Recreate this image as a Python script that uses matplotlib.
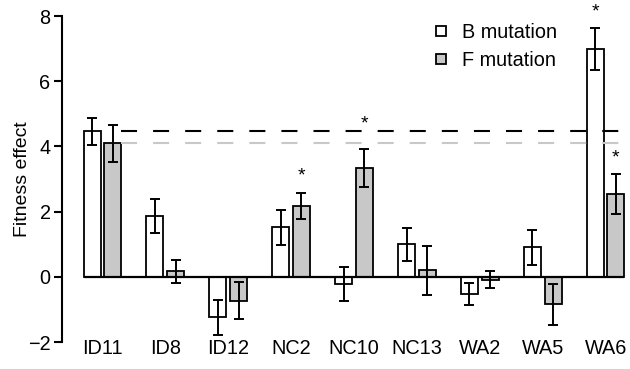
import matplotlib
matplotlib.use("Agg")
import matplotlib.pyplot as plt
from matplotlib.lines import Line2D
import numpy as np

plt.rcParams['font.family'] = ['Liberation Sans', 'DejaVu Sans']

categories = ["ID11", "ID8", "ID12", "NC2", "NC10", "NC13", "WA2", "WA5", "WA6"]
b_values = [4.46, 1.87, -1.24, 1.52, -0.22, 1.00, -0.53, 0.90, 6.99]
b_errors = [0.42, 0.53, 0.54, 0.53, 0.53, 0.50, 0.33, 0.53, 0.64]
f_values = [4.09, 0.17, -0.73, 2.18, 3.34, 0.20, -0.09, -0.84, 2.53]
f_errors = [0.56, 0.36, 0.56, 0.40, 0.58, 0.76, 0.26, 0.63, 0.61]
b_reference = 4.46
f_reference = 4.09
# significance stars: (category index, series, y position)
star_cat = ["NC2", "NC10", "WA6", "WA6"]
star_series = ["F", "F", "B", "F"]
star_y = [3.23, 4.84, 8.27, 3.80]

fig = plt.figure(figsize=(6.3, 3.69), dpi=100)
ax = fig.add_axes([61.7/630, 1-342/369, (630-61.7)/630, (342-16)/369])

x = np.arange(len(categories))
off = 0.164
w = 0.27
gray = "#c8c8c8"
ax.bar(x - off, b_values, w, color="white", edgecolor="black", linewidth=1.3, zorder=2)
ax.bar(x + off, f_values, w, color=gray, edgecolor="black", linewidth=1.3, zorder=2)
ax.errorbar(x - off, b_values, yerr=b_errors, fmt="none", ecolor="black",
            elinewidth=1.4, capsize=3.6, capthick=1.4, zorder=3)
ax.errorbar(x + off, f_values, yerr=f_errors, fmt="none", ecolor="black",
            elinewidth=1.4, capsize=3.6, capthick=1.4, zorder=3)

x0, x1 = x[0] - off - w/2, x[-1] + off + w/2
ax.hlines(0, x0, x1, color="black", linewidth=1.6, zorder=4)
ax.plot([0.30, x1 + 0.04], [b_reference]*2, color="black", linewidth=1.5,
        dashes=(7.7, 7.7), dash_capstyle="butt", zorder=4)
ax.plot([0.30, x1 + 0.04], [f_reference]*2, color="#c8c8c8", linewidth=1.5,
        dashes=(7.7, 7.7), dash_capstyle="butt", zorder=4)

for c, s, yv in zip(star_cat, star_series, star_y):
    xi = categories.index(c) + (off if s == "F" else -off)
    ax.text(xi, yv - 0.15, "*", ha="center", va="center", fontsize=14)

ax.set_xlim(-0.647, 8.388)
ax.set_ylim(-2, 8)
ax.set_yticks([-2, 0, 2, 4, 6, 8])
ax.set_yticklabels(["\u22122", "0", "2", "4", "6", "8"])
ax.set_xticks(x)
ax.set_xticklabels(categories)
ax.tick_params(axis="x", length=0, pad=-2, labelsize=14.3)
ax.tick_params(axis="y", length=6, width=1.5, labelsize=14.3, pad=2)
for s in ["top", "right", "bottom"]:
    ax.spines[s].set_visible(False)
ax.spines["left"].set_linewidth(1.5)
ax.set_ylabel("Fitness effect", fontsize=14, labelpad=-2)

handles = [Line2D([], [], marker="s", linestyle="none", markersize=7.5,
                  markerfacecolor="white", markeredgecolor="black", markeredgewidth=1.3),
           Line2D([], [], marker="s", linestyle="none", markersize=7.5,
                  markerfacecolor=gray, markeredgecolor="black", markeredgewidth=1.3)]
ax.legend(handles, ["B mutation", "F mutation"], loc="upper left",
          bbox_to_anchor=(417/630, 1-9/369), bbox_transform=fig.transFigure,
          frameon=False, fontsize=14.3, handlelength=1.0, handletextpad=0.55,
          labelspacing=0.45, borderpad=0.2)

fig.savefig("out.png", dpi=100)
